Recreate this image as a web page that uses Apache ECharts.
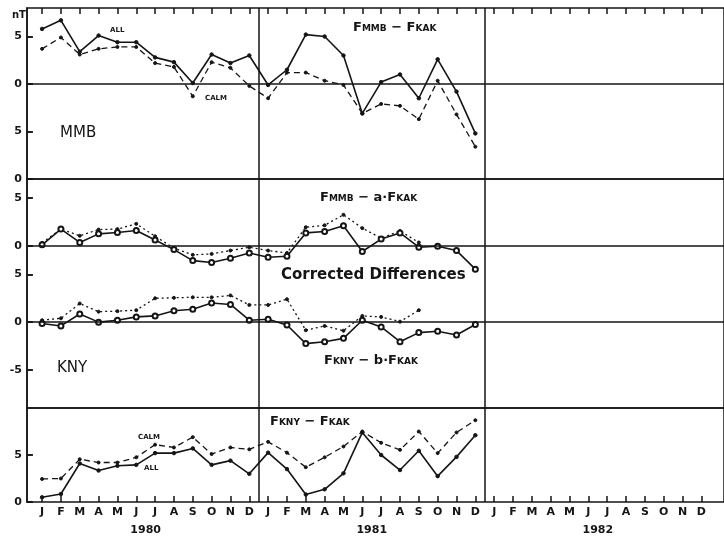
<!DOCTYPE html>
<html><head><meta charset="utf-8">
<script src="https://cdn.jsdelivr.net/npm/echarts@6/dist/echarts.min.js"></script>
<style>html,body{margin:0;padding:0;background:#fff}#c{width:724px;height:542px}</style>
</head><body><div id="c"></div>
<script>
// ---------------- data ----------------
const months = ['J','F','M','A','M','J','J','A','S','O','N','D'];
const monthLabels = months.concat(months, months);          // 1980, 1981, 1982
const years = ['1980', '1981', '1982'];

// Panel 1: F_MMB - F_KAK (nT), Jan 1980 .. Dec 1981
const mmbAll  = [5.8, 6.7, 3.4, 5.1, 4.4, 4.4, 2.8, 2.3, 0.1, 3.1, 2.2, 3.0,
                 -0.1, 1.5, 5.2, 5.0, 3.0, -3.1, 0.2, 1.0, -1.5, 2.6, -0.8, -5.2];
const mmbCalm = [3.7, 4.9, 3.1, 3.7, 3.9, 3.9, 2.2, 1.8, -1.3, 2.3, 1.7, -0.2,
                 -1.5, 1.2, 1.2, 0.35, -0.1, -3.1, -2.1, -2.3, -3.7, 0.35, -3.2, -6.6];

// Panel 2 upper: F_MMB - a*F_KAK
const mmbCorrAll  = [0.1, 1.75, 0.35, 1.25, 1.4, 1.6, 0.6, -0.4, -1.55, -1.75, -1.3, -0.75,
                     -1.2, -1.1, 1.35, 1.5, 2.1, -0.6, 0.7, 1.35, -0.15, -0.05, -0.5, -2.45];
const mmbCorrCalm = [0.3, 1.75, 1.05, 1.7, 1.75, 2.3, 1.0, -0.25, -0.95, -0.85, -0.5, -0.15,
                     -0.5, -0.75, 1.95, 2.15, 3.25, 1.85, 0.8, 1.55, 0.35];
// Panel 2 lower: F_KNY - b*F_KAK
const knyCorrAll  = [-0.15, -0.4, 0.85, 0, 0.2, 0.55, 0.65, 1.2, 1.35, 2.0, 1.85, 0.2,
                     0.3, -0.3, -2.25, -2.05, -1.7, 0.2, -0.5, -2.05, -1.1, -0.95, -1.35, -0.25];
const knyCorrCalm = [0.2, 0.4, 1.95, 1.1, 1.15, 1.25, 2.5, 2.55, 2.6, 2.6, 2.8, 1.8,
                     1.8, 2.4, -0.85, -0.4, -0.9, 0.65, 0.55, 0.05, 1.25];

// Panel 3: F_KNY - F_KAK
const knyAll  = [0.5, 0.85, 4.1, 3.35, 3.85, 3.95, 5.2, 5.2, 5.7, 3.95, 4.4, 3.0,
                 5.25, 3.5, 0.8, 1.35, 3.05, 7.4, 5.0, 3.4, 5.45, 2.75, 4.8, 7.1];
const knyCalm = [2.45, 2.5, 4.55, 4.2, 4.2, 4.75, 6.1, 5.8, 6.9, 5.1, 5.8, 5.6,
                 6.4, 5.25, 3.7, 4.75, 5.9, 7.5, 6.3, 5.55, 7.5, 5.2, 7.4, 8.7];

// tick labels (as printed)
const mmbTickValues = [5, 0, -5, -10];
const mmbTickLabels = ['5', '0', '5', '0'];
const corrUpperTickValues = [5, 0];
const corrUpperTickLabels = ['5', '0'];
const corrLowerTickValues = [5, 0, -5];
const corrLowerTickLabels = ['5', '0', '-5'];
const knyTickValues = [5, 0];
const knyTickLabels = ['5', '0'];

// ---------------- layout helpers ----------------
const UPPER_OFFSET = 8;           // upper sub-panel of panel 2 drawn 8 nT above lower one
const X_MIN = -0.8, X_MAX = 36.2;
const INK = '#151515';
const FONT = '"DejaVu Sans", "Liberation Sans", Arial, sans-serif';

const toXY = (arr, off) => arr.map((v, i) => [i, v + (off || 0)]);
const labelFor = (vals, labs) => (v) => {
  const k = vals.findIndex(t => Math.abs(t - v) < 1e-6);
  return k >= 0 ? labs[k] : '';
};

const corrTickValues = corrUpperTickValues.map(v => v + UPPER_OFFSET).concat(corrLowerTickValues);
const corrTickLabels = corrUpperTickLabels.concat(corrLowerTickLabels);
const monthTicks = monthLabels.map((m, i) => i);
const yearTicks = years.map((y, i) => i * 12 + 5.5);

const gridBase = { left: 27, width: 706, show: true, borderColor: INK, borderWidth: 1.5, backgroundColor: 'transparent' };

function yAxisCfg(gi, min, max, vals, labs) {
  return {
    type: 'value', gridIndex: gi, min: min, max: max, position: 'left',
    axisLine: { show: true, onZero: false, lineStyle: { color: INK, width: 1.5 } }, splitLine: { show: false },
    axisTick: { show: true, inside: true, length: 6, customValues: vals, lineStyle: { color: INK, width: 1.5 } },
    axisLabel: { show: true, customValues: vals, formatter: labelFor(vals, labs), margin: 5,
      color: INK, fontFamily: FONT, fontWeight: 'bold', fontSize: 11 }
  };
}

const vline = [{ xAxis: 11.5 }, { xAxis: 23.5 }];
function markLines(extra) {
  return {
    silent: true, symbol: ['none', 'none'], animation: false,
    label: { show: false },
    lineStyle: { color: INK, width: 1.5, type: 'solid' },
    emphasis: { disabled: true },
    data: vline.concat(extra)
  };
}
// short inside tick segments on the left frame, one per printed y tick
function yTickSegs(vals) {
  return vals.map(v => [{ coord: [X_MIN, v] }, { coord: [X_MIN + 0.3, v] }]);
}

function line(gi, data, type, sym, size, ml) {
  const s = {
    type: 'line', xAxisIndex: gi === 2 ? 2 : gi, yAxisIndex: gi, data: data,
    symbol: sym, symbolSize: size, showSymbol: true,
    color: INK,
    lineStyle: { color: INK, width: type === 'solid' ? 1.6 : 1.3, type: type },
    itemStyle: { color: INK, borderColor: INK, borderWidth: 1 },
    animation: false, silent: true
  };
  if (ml) s.markLine = ml;
  return s;
}

function rt(x, y, text, size) {
  return {
    type: 'text', left: x, top: y, silent: true,
    style: {
      text: text, fill: INK,
      rich: {
        f: { fontFamily: FONT, fontWeight: 'bold', fontSize: size, fill: INK, verticalAlign: 'bottom' },
        s: { fontFamily: FONT, fontWeight: 'bold', fontSize: Math.round(size * 0.7), fill: INK, verticalAlign: 'bottom', padding: [0, 0, 1, 0] }
      }
    }
  };
}
function tx(x, y, text, size, weight) {
  return { type: 'text', left: x, top: y, silent: true,
    style: { text: text, fill: INK, font: (weight || 'bold') + ' ' + size + 'px ' + FONT } };
}

const xHidden = { axisLine: { show: false, onZero: false }, splitLine: { show: false } };

const option = {
  animation: false,
  backgroundColor: '#fff',
  grid: [
    Object.assign({ top: 8, height: 171 }, gridBase),
    Object.assign({ top: 179, height: 229 }, gridBase),
    Object.assign({ top: 408, height: 94 }, gridBase)
  ],
  xAxis: [
    Object.assign({ type: 'value', gridIndex: 0, min: X_MIN, max: X_MAX, position: 'top', axisLabel: { show: false },
      axisTick: { show: true, inside: true, length: 6, customValues: monthTicks, lineStyle: { color: INK, width: 1.5 } } }, xHidden),
    Object.assign({ type: 'value', gridIndex: 1, min: X_MIN, max: X_MAX, position: 'bottom',
      axisTick: { show: false }, axisLabel: { show: false } }, xHidden),
    Object.assign({ type: 'value', gridIndex: 2, min: X_MIN, max: X_MAX, position: 'bottom',
      axisTick: { show: true, inside: true, length: 6, customValues: monthTicks, lineStyle: { color: INK, width: 1.5 } },
      axisLabel: { show: true, customValues: monthTicks, formatter: v => monthLabels[Math.round(v)], margin: 5,
        color: INK, fontFamily: FONT, fontWeight: 'bold', fontSize: 11 } }, xHidden),
    Object.assign({ type: 'value', gridIndex: 2, min: X_MIN, max: X_MAX, position: 'bottom', offset: 19,
      axisTick: { show: false },
      axisLabel: { show: true, customValues: yearTicks, formatter: v => years[Math.round((v - 5.5) / 12)], margin: 4,
        color: INK, fontFamily: FONT, fontWeight: 'bold', fontSize: 11 } }, xHidden)
  ],
  yAxis: [
    yAxisCfg(0, -10, 8, mmbTickValues, mmbTickLabels),
    yAxisCfg(1, -9, 15, corrTickValues, corrTickLabels),
    yAxisCfg(2, 0, 10, knyTickValues, knyTickLabels)
  ],
  series: [
    line(0, toXY(mmbAll), 'solid', 'circle', 3.5, markLines([{ yAxis: 0 }].concat(yTickSegs(mmbTickValues)))),
    line(0, toXY(mmbCalm), [6, 4], 'circle', 3),
    line(1, toXY(mmbCorrCalm, UPPER_OFFSET), [2, 3], 'circle', 3,
         markLines([{ yAxis: UPPER_OFFSET }, { yAxis: 0 }].concat(yTickSegs(corrTickValues)))),
    line(1, toXY(mmbCorrAll, UPPER_OFFSET), 'solid', 'emptyCircle', 5),
    line(1, toXY(knyCorrCalm), [2, 3], 'circle', 3),
    line(1, toXY(knyCorrAll), 'solid', 'emptyCircle', 5),
    line(2, toXY(knyAll), 'solid', 'circle', 3.5, markLines(yTickSegs(knyTickValues))),
    line(2, toXY(knyCalm), [6, 4], 'circle', 3)
  ],
  graphic: [
    tx(12, 10, 'nT', 10),
    tx(110, 27, 'ALL', 7),
    tx(205, 95, 'CALM', 7),
    tx(60, 126, 'MMB', 15, 'normal'),
    rt(353, 21, '{f|F}{s|MMB}{f| − F}{s|KAK}', 13),
    rt(320, 191, '{f|F}{s|MMB}{f| − a·F}{s|KAK}', 13),
    tx(281, 268, 'Corrected Differences', 15),
    rt(324, 354, '{f|F}{s|KNY}{f| − b·F}{s|KAK}', 13),
    tx(57, 361, 'KNY', 15, 'normal'),
    tx(138, 434, 'CALM', 7),
    tx(144, 465, 'ALL', 7),
    rt(270, 415, '{f|F}{s|KNY}{f| − F}{s|KAK}', 13)
  ]
};

const chart = echarts.init(document.getElementById('c'), null, { renderer: 'canvas' });
chart.setOption(option);
</script></body></html>
